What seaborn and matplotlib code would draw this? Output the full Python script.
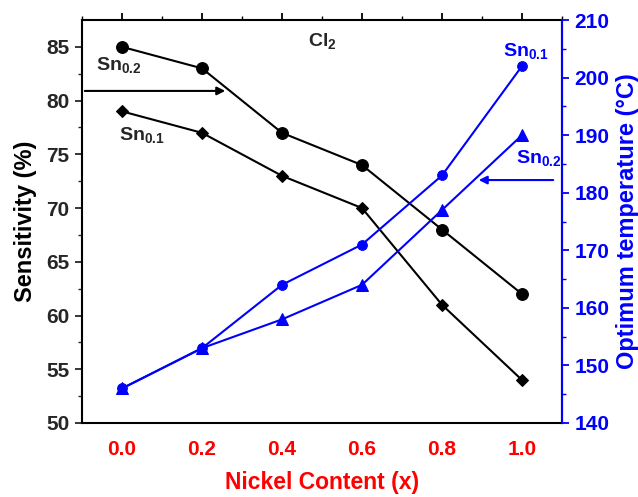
import matplotlib
matplotlib.use("Agg")
import matplotlib.pyplot as plt
import seaborn as sns
import numpy as np
import pandas as pd

nickel = [0.0, 0.2, 0.4, 0.6, 0.8, 1.0]
sens_sn02 = [85, 83, 77, 74, 68, 62]
sens_sn01 = [79, 77, 73, 70, 61, 54]
temp_sn01 = [146, 153, 164, 171, 183, 202]
temp_sn02 = [146, 153, 158, 164, 177, 190]
x_ticks = [0.0, 0.2, 0.4, 0.6, 0.8, 1.0]
left_ticks = [50, 55, 60, 65, 70, 75, 80, 85]
right_ticks = [140, 150, 160, 170, 180, 190, 200, 210]

sns.set_style("white")
plt.rcParams['font.family'] = ['Liberation Sans', 'DejaVu Sans']
plt.rcParams['font.weight'] = 'bold'
plt.rcParams['mathtext.fontset'] = 'custom'
plt.rcParams['mathtext.rm'] = 'Liberation Sans:bold'
plt.rcParams['mathtext.it'] = 'Liberation Sans:bold'
plt.rcParams['mathtext.bf'] = 'Liberation Sans:bold'

BLUE = '#0000FF'
RED = '#FF0000'

fig = plt.figure(figsize=(6.38, 4.97), dpi=100)
ax = fig.add_subplot(111)
fig.subplots_adjust(left=82/638, right=562/638, top=1-20/497, bottom=1-423/497)

df = pd.DataFrame({'x': nickel, 's02': sens_sn02, 's01': sens_sn01,
                   't01': temp_sn01, 't02': temp_sn02})

sns.lineplot(data=df, x='x', y='s02', ax=ax, color='black', marker='o',
             markersize=8.5, linewidth=1.5, markeredgecolor='black')
sns.lineplot(data=df, x='x', y='s01', ax=ax, color='black', marker='D',
             markersize=6.5, linewidth=1.5, markeredgecolor='black')
ax.set_xlim(-0.1, 1.1)
ax.set_ylim(50, 87.5)
ax.set_xticks(x_ticks)
ax.set_xticklabels([f"{v:.1f}" for v in x_ticks])
ax.set_yticks(left_ticks)
ax.set_xticks(np.arange(-0.1, 1.11, 0.1), minor=True)
ax.set_yticks(np.arange(52.5, 87.5, 5), minor=True)
ax.set_xlabel("Nickel Content (x)", color=RED, fontsize=16.5, fontweight='bold', labelpad=9)
ax.set_ylabel("Sensitivity (%)", color='black', fontsize=17, fontweight='bold', labelpad=7)
ax.tick_params(axis='x', which='both', direction='out', colors='black', labelcolor=RED,
               labelsize=15, top=True, pad=7)
ax.tick_params(axis='x', which='major', length=5, width=1.3)
ax.tick_params(axis='x', which='minor', length=3, width=1)
ax.tick_params(axis='y', which='both', direction='out', labelsize=15, left=True, pad=4)
ax.tick_params(axis='y', which='major', length=5, width=1.3)
ax.tick_params(axis='y', which='minor', length=3, width=1)
for sp in ax.spines.values():
    sp.set_linewidth(1.5)
    sp.set_color('black')

ax2 = ax.twinx()
sns.lineplot(data=df, x='x', y='t01', ax=ax2, color=BLUE, marker='o',
             markersize=7, linewidth=1.5, markeredgecolor=BLUE)
sns.lineplot(data=df, x='x', y='t02', ax=ax2, color=BLUE, marker='^',
             markersize=8, linewidth=1.5, markeredgecolor=BLUE)
ax2.set_ylim(140, 210)
ax2.set_yticks(right_ticks)
ax2.set_yticks(np.arange(145, 210, 10), minor=True)
ax2.set_ylabel("Optimum temperature (°C)", color=BLUE, fontsize=17, fontweight='bold', labelpad=5)
ax2.tick_params(axis='y', which='both', direction='out', colors=BLUE, labelcolor=BLUE,
                labelsize=15, right=True, pad=4)
ax2.tick_params(axis='y', which='major', length=5, width=1.3)
ax2.tick_params(axis='y', which='minor', length=3, width=1)
ax2.spines['right'].set_color(BLUE)
ax2.spines['right'].set_linewidth(1.5)
for s in ['left', 'top', 'bottom']:
    ax2.spines[s].set_visible(False)
ax2.set_xlim(-0.1, 1.1)

for a in (ax, ax2):
    for lbl in a.get_xticklabels() + a.get_yticklabels():
        lbl.set_fontweight('bold')

# annotations
ax.text(0.5, 85.5, r"Cl$_2$", fontsize=14, fontweight='bold', ha='center', va='center')
ax.text(-0.065, 83.3, r"Sn$_{0.2}$", fontsize=14, fontweight='bold', ha='left', va='center')
ax.text(-0.008, 76.8, r"Sn$_{0.1}$", fontsize=14, fontweight='bold', ha='left', va='center')
ax.annotate("", xy=(0.265, 80.9), xytext=(-0.1, 80.9),
            arrowprops=dict(arrowstyle='-|>', color='black', lw=1.5, mutation_scale=12))
ax2.text(1.01, 204.6, r"Sn$_{0.1}$", fontsize=14, fontweight='bold', color=BLUE, ha='center', va='center')
ax2.text(0.985, 186.0, r"Sn$_{0.2}$", fontsize=14, fontweight='bold', color=BLUE, ha='left', va='center')
ax2.annotate("", xy=(0.885, 182.2), xytext=(1.085, 182.2),
             arrowprops=dict(arrowstyle='-|>', color=BLUE, lw=1.5, mutation_scale=12))

fig.savefig("out.png", dpi=100)
